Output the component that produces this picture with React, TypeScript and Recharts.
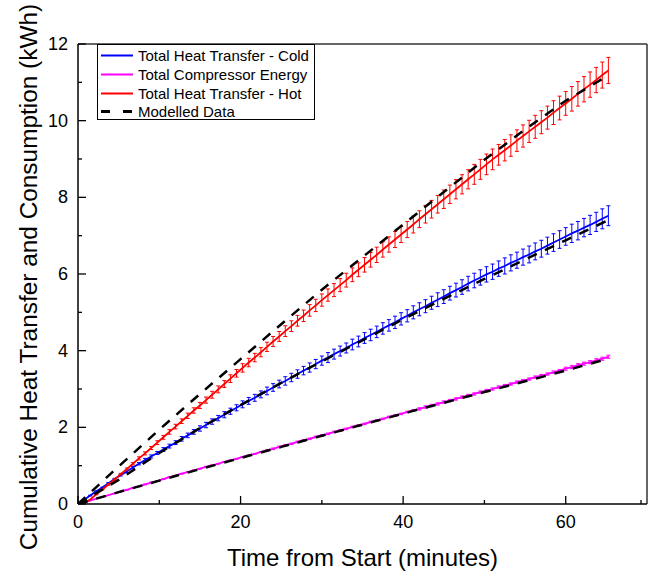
import React from 'react';
import { LineChart, Line, XAxis, YAxis, ErrorBar, ReferenceLine } from 'recharts';

const FONT = '"Liberation Sans", Arial, sans-serif';

// sample times (minutes), one reading every 45 s
const TIME = [
  0, 0.75, 1.5, 2.25, 3, 3.75, 4.5, 5.25,
  6, 6.75, 7.5, 8.25, 9, 9.75, 10.5, 11.25,
  12, 12.75, 13.5, 14.25, 15, 15.75, 16.5, 17.25,
  18, 18.75, 19.5, 20.25, 21, 21.75, 22.5, 23.25,
  24, 24.75, 25.5, 26.25, 27, 27.75, 28.5, 29.25,
  30, 30.75, 31.5, 32.25, 33, 33.75, 34.5, 35.25,
  36, 36.75, 37.5, 38.25, 39, 39.75, 40.5, 41.25,
  42, 42.75, 43.5, 44.25, 45, 45.75, 46.5, 47.25,
  48, 48.75, 49.5, 50.25, 51, 51.75, 52.5, 53.25,
  54, 54.75, 55.5, 56.25, 57, 57.75, 58.5, 59.25,
  60, 60.75, 61.5, 62.25, 63, 63.75, 64.5, 65.25,
];

const COLD = [
  0, 0.11, 0.22, 0.33, 0.43, 0.54, 0.65, 0.75,
  0.85, 0.95, 1.05, 1.15, 1.24, 1.33, 1.42, 1.51,
  1.6, 1.7, 1.79, 1.88, 1.97, 2.06, 2.15, 2.24,
  2.33, 2.42, 2.51, 2.6, 2.69, 2.77, 2.86, 2.95,
  3.04, 3.13, 3.21, 3.3, 3.39, 3.48, 3.56, 3.65,
  3.74, 3.82, 3.91, 3.99, 4.07, 4.16, 4.24, 4.33,
  4.41, 4.49, 4.58, 4.66, 4.74, 4.83, 4.91, 5.0,
  5.08, 5.16, 5.25, 5.33, 5.41, 5.5, 5.58, 5.66,
  5.75, 5.83, 5.91, 5.99, 6.06, 6.14, 6.21, 6.29,
  6.36, 6.44, 6.51, 6.59, 6.66, 6.74, 6.82, 6.9,
  6.98, 7.06, 7.13, 7.21, 7.28, 7.36, 7.44, 7.52,
];
const COLD_ERR = [
  0, 0, 0.01, 0.01, 0.01, 0.02, 0.02, 0.02,
  0.03, 0.03, 0.03, 0.04, 0.04, 0.04, 0.05, 0.05,
  0.05, 0.06, 0.06, 0.06, 0.07, 0.07, 0.07, 0.07,
  0.08, 0.08, 0.08, 0.09, 0.09, 0.09, 0.09, 0.1,
  0.1, 0.1, 0.11, 0.11, 0.11, 0.11, 0.12, 0.12,
  0.12, 0.13, 0.13, 0.13, 0.13, 0.14, 0.14, 0.14,
  0.15, 0.15, 0.15, 0.15, 0.16, 0.16, 0.16, 0.17,
  0.17, 0.17, 0.17, 0.18, 0.18, 0.18, 0.18, 0.19,
  0.19, 0.19, 0.2, 0.2, 0.2, 0.2, 0.21, 0.21,
  0.21, 0.21, 0.22, 0.22, 0.22, 0.22, 0.23, 0.23,
  0.23, 0.24, 0.24, 0.24, 0.25, 0.25, 0.26, 0.26,
];

const COMP = [
  0, 0.04, 0.09, 0.14, 0.18, 0.23, 0.28, 0.32,
  0.37, 0.42, 0.46, 0.51, 0.56, 0.6, 0.65, 0.7,
  0.74, 0.79, 0.83, 0.88, 0.92, 0.97, 1.01, 1.05,
  1.1, 1.14, 1.18, 1.23, 1.27, 1.31, 1.36, 1.4,
  1.44, 1.49, 1.53, 1.57, 1.62, 1.66, 1.7, 1.75,
  1.79, 1.83, 1.88, 1.92, 1.96, 2.01, 2.05, 2.09,
  2.14, 2.18, 2.22, 2.27, 2.31, 2.35, 2.4, 2.44,
  2.48, 2.53, 2.57, 2.61, 2.66, 2.7, 2.74, 2.79,
  2.83, 2.87, 2.92, 2.96, 3.0, 3.05, 3.09, 3.13,
  3.18, 3.22, 3.26, 3.31, 3.35, 3.39, 3.44, 3.48,
  3.53, 3.57, 3.62, 3.66, 3.7, 3.75, 3.79, 3.84,
];
const COMP_ERR = [
  0, 0, 0, 0, 0, 0, 0, 0,
  0.01, 0.01, 0.01, 0.01, 0.01, 0.01, 0.01, 0.01,
  0.01, 0.01, 0.01, 0.01, 0.01, 0.01, 0.01, 0.01,
  0.01, 0.01, 0.01, 0.01, 0.01, 0.01, 0.01, 0.01,
  0.02, 0.02, 0.02, 0.02, 0.02, 0.02, 0.02, 0.02,
  0.02, 0.02, 0.02, 0.02, 0.02, 0.02, 0.02, 0.02,
  0.02, 0.02, 0.02, 0.02, 0.02, 0.02, 0.02, 0.02,
  0.03, 0.03, 0.03, 0.03, 0.03, 0.03, 0.03, 0.03,
  0.03, 0.03, 0.03, 0.03, 0.03, 0.03, 0.03, 0.03,
  0.03, 0.03, 0.03, 0.03, 0.03, 0.03, 0.03, 0.03,
  0.04, 0.04, 0.04, 0.04, 0.04, 0.04, 0.04, 0.04,
];

const HOT = [
  0, 0.02, 0.12, 0.25, 0.38, 0.51, 0.64, 0.78,
  0.91, 1.05, 1.19, 1.32, 1.46, 1.6, 1.74, 1.88,
  2.02, 2.16, 2.3, 2.44, 2.57, 2.71, 2.85, 2.99,
  3.13, 3.27, 3.41, 3.55, 3.69, 3.82, 3.96, 4.1,
  4.24, 4.37, 4.51, 4.64, 4.78, 4.91, 5.05, 5.18,
  5.32, 5.45, 5.58, 5.71, 5.84, 5.98, 6.11, 6.24,
  6.37, 6.5, 6.64, 6.77, 6.9, 7.03, 7.16, 7.29,
  7.43, 7.56, 7.69, 7.82, 7.95, 8.08, 8.21, 8.34,
  8.47, 8.6, 8.73, 8.86, 8.99, 9.11, 9.23, 9.35,
  9.48, 9.6, 9.72, 9.84, 9.96, 10.08, 10.21, 10.33,
  10.45, 10.57, 10.7, 10.82, 10.94, 11.06, 11.19, 11.31,
];
const HOT_ERR = [
  0, 0, 0, 0.01, 0.01, 0.02, 0.02, 0.02,
  0.03, 0.03, 0.04, 0.04, 0.04, 0.05, 0.05, 0.06,
  0.06, 0.06, 0.07, 0.07, 0.08, 0.08, 0.09, 0.09,
  0.09, 0.1, 0.1, 0.11, 0.11, 0.11, 0.12, 0.12,
  0.13, 0.13, 0.14, 0.14, 0.14, 0.15, 0.15, 0.16,
  0.16, 0.16, 0.17, 0.17, 0.18, 0.18, 0.18, 0.19,
  0.19, 0.2, 0.2, 0.2, 0.21, 0.21, 0.21, 0.22,
  0.22, 0.23, 0.23, 0.23, 0.24, 0.24, 0.25, 0.25,
  0.25, 0.26, 0.26, 0.27, 0.27, 0.27, 0.28, 0.28,
  0.28, 0.29, 0.29, 0.3, 0.3, 0.3, 0.31, 0.31,
  0.31, 0.32, 0.32, 0.33, 0.33, 0.33, 0.34, 0.34,
];

// modelled curves
const MODEL_TIME = [0, 5, 10, 15, 20, 25, 30, 35, 40, 45, 50, 55, 60, 65];
const COLD_MODEL = [0, 0.63, 1.33, 1.98, 2.58, 3.16, 3.72, 4.27, 4.82, 5.35, 5.87, 6.38, 6.88, 7.38];
const COMP_MODEL = [0, 0.31, 0.61, 0.91, 1.2, 1.49, 1.78, 2.07, 2.36, 2.64, 2.92, 3.2, 3.48, 3.78];
const HOT_MODEL = [0, 0.98, 1.94, 2.87, 3.78, 4.69, 5.59, 6.44, 7.29, 8.14, 8.98, 9.77, 10.52, 11.15];

const X_TICKS = [0, 10, 20, 30, 40, 50, 60, 70];
const Y_TICKS = [0, 1, 2, 3, 4, 5, 6, 7, 8, 9, 10, 11, 12];

const LEGEND = [
  { name: 'Total Heat Transfer - Cold', color: '#0000ff', dashed: false },
  { name: 'Total Compressor Energy', color: '#ff00ff', dashed: false },
  { name: 'Total Heat Transfer - Hot', color: '#ff0000', dashed: false },
  { name: 'Modelled Data', color: '#000000', dashed: true },
];

const measured = TIME.map((t, i) => ({
  t,
  cold: COLD[i],
  coldErr: COLD_ERR[i],
  comp: COMP[i],
  compErr: COMP_ERR[i],
  hot: HOT[i],
  hotErr: HOT_ERR[i],
}));

const coldModel = MODEL_TIME.map((t, i) => ({ t, v: COLD_MODEL[i] }));
const compModel = MODEL_TIME.map((t, i) => ({ t, v: COMP_MODEL[i] }));
const hotModel = MODEL_TIME.map((t, i) => ({ t, v: HOT_MODEL[i] }));

// inward ticks, labels only on the major ones
const XTick = ({ x, y, payload }: any) => {
  const major = payload.value % 20 === 0 && payload.value < 70;
  return (
    <g>
      <line x1={x} x2={x} y1={y} y2={y - (major ? 8 : 4)} stroke="#000" strokeWidth={1.3} />
      {major && (
        <text x={x} y={y + 18} textAnchor="middle" dominantBaseline="central" fontSize={18} fontFamily={FONT} fill="#000">
          {payload.value}
        </text>
      )}
    </g>
  );
};

const YTick = ({ x, y, payload }: any) => {
  const major = payload.value % 2 === 0;
  return (
    <g>
      <line x1={x} x2={x + (major ? 8 : 4)} y1={y} y2={y} stroke="#000" strokeWidth={1.3} />
      {major && (
        <text x={x - 10} y={y} textAnchor="end" dominantBaseline="central" fontSize={18} fontFamily={FONT} fill="#000">
          {payload.value}
        </text>
      )}
    </g>
  );
};

const XTitle = ({ viewBox }: any) => (
  <text x={viewBox.x + viewBox.width / 2} y={viewBox.y + 53} textAnchor="middle" dominantBaseline="central" fontSize={24} fontFamily={FONT} fill="#000">
    Time from Start (minutes)
  </text>
);

const YTitle = ({ viewBox }: any) => {
  const cx = viewBox.x + 28;
  const cy = viewBox.y + viewBox.height / 2 + 3;
  return (
    <text x={cx} y={cy} transform={`rotate(-90 ${cx} ${cy})`} textAnchor="middle" dominantBaseline="central" fontSize={24.4} fontFamily={FONT} fill="#000">
      Cumulative Heat Transfer and Consumption (kWh)
    </text>
  );
};

const LegendBox = () => (
  <div
    style={{
      position: 'absolute',
      left: 97,
      top: 44,
      width: 218,
      height: 76,
      border: '1px solid #000',
      background: '#fff',
      fontFamily: FONT,
      fontSize: 15,
      boxSizing: 'border-box',
    }}
  >
    {LEGEND.map((item, i) => (
      <div key={item.name} style={{ position: 'absolute', left: 0, top: 1 + i * 18.8, height: 19, display: 'flex', alignItems: 'center', whiteSpace: 'nowrap' }}>
        <svg width={40} height={19} style={{ display: 'block' }}>
          <line
            x1={3}
            x2={35}
            y1={9.5}
            y2={9.5}
            stroke={item.color}
            strokeWidth={item.dashed ? 3 : 2}
            strokeDasharray={item.dashed ? '9 13' : undefined}
          />
        </svg>
        <span style={{ color: '#000' }}>{item.name}</span>
      </div>
    ))}
  </div>
);

export default function App() {
  return (
    <div style={{ position: 'absolute', left: 0, top: 0, width: 649, height: 575, background: '#fff' }}>
      <LineChart width={649} height={575} data={measured} margin={{ top: 44, right: 2, bottom: 0, left: 0 }}>
        <XAxis
          dataKey="t"
          type="number"
          domain={[0, 70]}
          ticks={X_TICKS}
          allowDataOverflow
          height={71}
          tickSize={0}
          tickMargin={0}
          tick={<XTick />}
          axisLine={{ stroke: '#000', strokeWidth: 1.5 }}
          label={<XTitle />}
        />
        <YAxis
          type="number"
          domain={[0, 12]}
          ticks={Y_TICKS}
          allowDataOverflow
          width={78}
          tickSize={0}
          tickMargin={0}
          tick={<YTick />}
          axisLine={{ stroke: '#000', strokeWidth: 1.5 }}
          label={<YTitle />}
        />
        <ReferenceLine y={12} stroke="#333" strokeWidth={1.5} />
        <ReferenceLine x={70} stroke="#333" strokeWidth={1.5} />
        <Line dataKey="cold" stroke="#0000ff" strokeWidth={1.8} dot={false} isAnimationActive={false}>
          <ErrorBar dataKey="coldErr" width={2} stroke="#0000ff" strokeWidth={1} direction="y" isAnimationActive={false} />
        </Line>
        <Line dataKey="comp" stroke="#ff00ff" strokeWidth={1.8} dot={false} isAnimationActive={false}>
          <ErrorBar dataKey="compErr" width={2} stroke="#ff00ff" strokeWidth={1} direction="y" isAnimationActive={false} />
        </Line>
        <Line dataKey="hot" stroke="#ff0000" strokeWidth={1.8} dot={false} isAnimationActive={false}>
          <ErrorBar dataKey="hotErr" width={2} stroke="#ff0000" strokeWidth={1} direction="y" isAnimationActive={false} />
        </Line>
        <Line data={coldModel} dataKey="v" stroke="#000" strokeWidth={2.5} strokeDasharray="10 9" dot={false} isAnimationActive={false} />
        <Line data={compModel} dataKey="v" stroke="#000" strokeWidth={2.5} strokeDasharray="10 9" dot={false} isAnimationActive={false} />
        <Line data={hotModel} dataKey="v" stroke="#000" strokeWidth={2.5} strokeDasharray="10 9" dot={false} isAnimationActive={false} />
      </LineChart>
      <LegendBox />
    </div>
  );
}
